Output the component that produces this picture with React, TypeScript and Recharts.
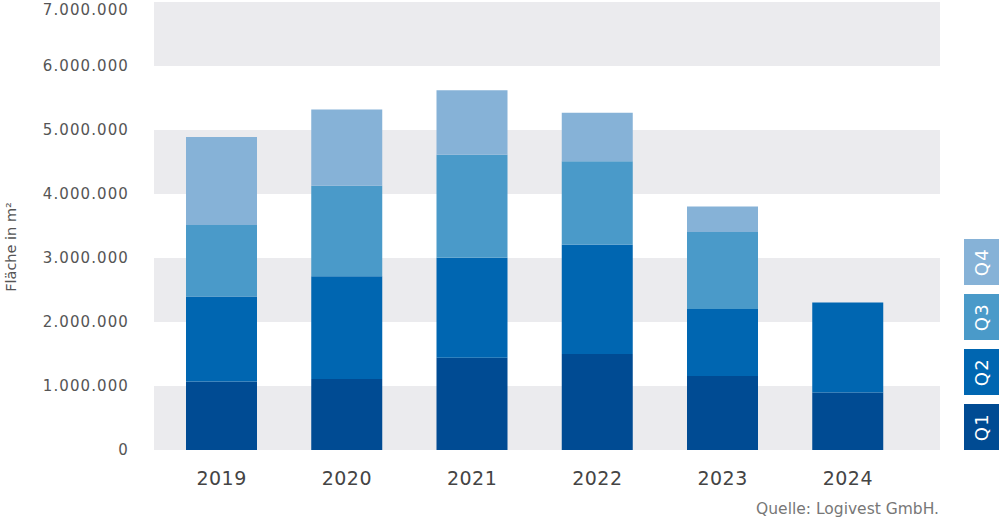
import React from 'react';
import { BarChart, Bar, XAxis, YAxis, CartesianGrid, Legend } from 'recharts';

const years = ['2019', '2020', '2021', '2022', '2023', '2024'];
const q1 = [1070000, 1110000, 1440000, 1500000, 1155000, 900000];
const q2 = [1330000, 1605000, 1565000, 1710000, 1050000, 1405000];
const q3 = [1115000, 1415000, 1610000, 1300000, 1200000, null];
const q4 = [1375000, 1190000, 1005000, 760000, 400000, null];
const yTicks = [0, 1000000, 2000000, 3000000, 4000000, 5000000, 6000000, 7000000];
const seriesNames = ['Q1', 'Q2', 'Q3', 'Q4'];
const seriesColors = ['#004b93', '#0066b1', '#4a9ac9', '#86b2d7'];

const data = years.map((y, i) => ({ year: y, Q1: q1[i], Q2: q2[i], Q3: q3[i], Q4: q4[i] }));

const fmt = (v: number) => String(v).replace(/\B(?=(\d{3})+(?!\d))/g, '.');

const FONT = '"DejaVu Sans", sans-serif';

const YTick = (props: any) => {
  const { x, y, payload } = props;
  const yy = Math.max(y, 10);
  return (
    <text
      x={x}
      y={yy}
      textAnchor="end"
      dominantBaseline="central"
      fill="#555"
      fontFamily={FONT}
      fontSize={15}
      letterSpacing={1.1}
    >
      {fmt(payload.value)}
    </text>
  );
};

const LegendContent = () => {
  const items = [...seriesNames].reverse();
  const colors = [...seriesColors].reverse();
  return (
    <svg width={36} height={214} style={{ display: 'block' }}>
      {items.map((n, i) => {
        const y = i * 55;
        return (
          <g key={n}>
            <rect x={0} y={y} width={35} height={46} fill={colors[i]} />
            <text
              x={17.5}
              y={y + 23}
              transform={`rotate(-90 17.5 ${y + 23})`}
              textAnchor="middle"
              dominantBaseline="central"
              fill="#ffffff"
              fontFamily={FONT}
              fontSize={18}
              letterSpacing={1.5}
            >
              {n}
            </text>
          </g>
        );
      })}
    </svg>
  );
};

const YLabel = () => (
  <text
    x={11}
    y={247}
    transform="rotate(-90 11 247)"
    textAnchor="middle"
    dominantBaseline="central"
    fill="#555"
    fontFamily={FONT}
    fontSize={14.5}
  >
    Fläche in m²
  </text>
);

export default function App() {
  return (
    <div style={{ position: 'absolute', left: 0, top: 0, width: 1000, height: 521, background: '#fff' }}>
      <BarChart
        width={1000}
        height={521}
        data={data}
        margin={{ top: 2, right: 60, left: 0, bottom: 0 }}
        barCategoryGap={0}
      >
        <CartesianGrid
          horizontal={true}
          vertical={false}
          stroke="none"
          horizontalFill={['#ebebee', '#ffffff']}
          fillOpacity={1}
        />
        <XAxis
          dataKey="year"
          axisLine={false}
          tickLine={false}
          padding={{ left: 5, right: 29.5 }}
          height={71}
          tickMargin={22}
          tickSize={0}
          tick={{ fill: '#444', fontSize: 19, fontFamily: FONT, letterSpacing: 0.5 }}
        />
        <YAxis
          domain={[0, 7000000]}
          ticks={yTicks}
          interval={0}
          width={154}
          axisLine={false}
          tickLine={false}
          tickSize={0}
          tickMargin={25}
          tickFormatter={fmt}
          tick={<YTick />}
          label={<YLabel />}
        />
        <Legend
          layout="horizontal"
          verticalAlign="middle"
          align="center"
          content={<LegendContent />}
          wrapperStyle={{ left: 964, top: 239, width: 36, height: 214 }}
        />
        {seriesNames.map((n, i) => (
          <Bar key={n} dataKey={n} stackId="a" fill={seriesColors[i]} barSize={71} isAnimationActive={false} />
        ))}
      </BarChart>
      <div
        style={{
          position: 'absolute',
          right: 61,
          top: 499,
          fontFamily: FONT,
          fontSize: 15.5,
          color: '#777',
          lineHeight: '20px',
          whiteSpace: 'nowrap',
        }}
      >
        Quelle: Logivest GmbH.
      </div>
    </div>
  );
}
